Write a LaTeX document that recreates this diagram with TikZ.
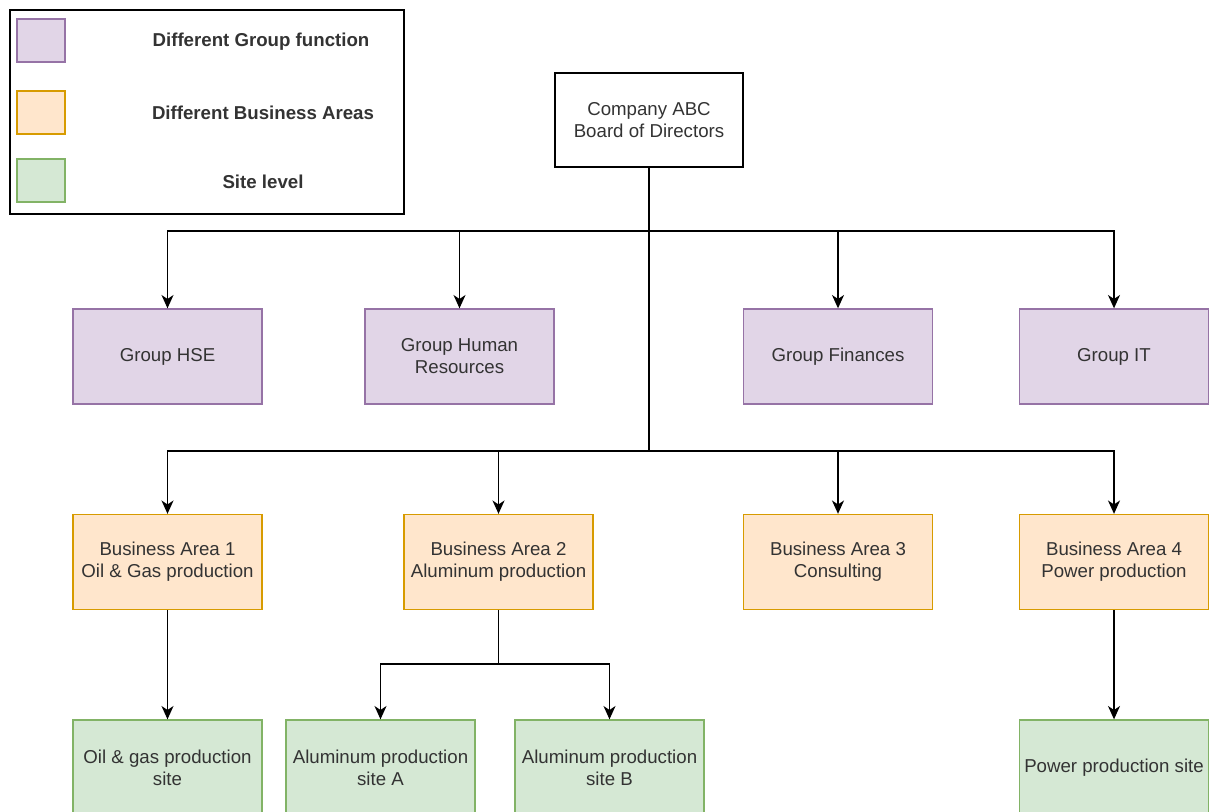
\documentclass[tikz,border=0pt]{standalone}
\usepackage{fontspec}
\setmainfont{Liberation Sans}
\usetikzlibrary{arrows.meta}
\definecolor{pfill}{HTML}{E1D5E7}\definecolor{pline}{HTML}{9673A6}
\definecolor{ofill}{HTML}{FFE6CC}\definecolor{oline}{HTML}{D79B00}
\definecolor{gfill}{HTML}{D5E8D4}\definecolor{gline}{HTML}{82B366}
\definecolor{txt}{HTML}{333333}
\tikzset{
  box/.style={draw, line width=1pt, minimum width=141.75pt, minimum height=71.25pt, inner sep=0pt, align=center, text=txt, font=\fontsize{14}{16.5}\selectfont},
  pbox/.style={box, fill=pfill, draw=pline},
  obox/.style={box, fill=ofill, draw=oline},
  gbox/.style={box, fill=gfill, draw=gline},
  lsq/.style={draw, line width=1pt, minimum width=36pt, minimum height=32.25pt, inner sep=0pt},
  ltxt/.style={font=\bfseries\fontsize{14}{16.5}\selectfont, text=txt, inner sep=0pt},
  conn/.style={line width=1.1pt, draw=black},
  arr/.style={conn, -{Stealth[length=10pt,width=9pt,inset=3pt]}}
}
\begin{document}
\begin{tikzpicture}[x=0.75pt,y=-0.75pt]
\useasboundingbox (0,0) rectangle (1209,812);
\fill[white] (0,0) rectangle (1209,812);
% legend
\node[draw, line width=1.1pt, minimum width=295.5pt, minimum height=153pt, inner sep=0pt] (legend) at (207,112) {};
\node[lsq, fill=pfill, draw=pline] (lp) at (41,40.5) {};
\node[lsq, fill=ofill, draw=oline] (lo) at (41,112.5) {};
\node[lsq, fill=gfill, draw=gline] (lg) at (41,180.5) {};
\node[ltxt] (tp) at (261,42) {Different Group function};
\node[ltxt] (to) at (263,113) {Different Business Areas};
\node[ltxt] (tg) at (263,182) {Site level};
% top
\node[box, draw=black, minimum width=141pt, minimum height=70.5pt] (board) at (649,120) {Company ABC\\Board of Directors};
% group functions
\node[pbox] (hse) at (167.5,356.5) {Group HSE};
\node[pbox] (hr) at (459.5,356.5) {Group Human\\Resources};
\node[pbox] (fin) at (838,356.5) {Group Finances};
\node[pbox] (it) at (1114,356.5) {Group IT};
% business areas
\node[obox] (ba1) at (167.5,562) {Business Area 1\\Oil \& Gas production};
\node[obox] (ba2) at (498.5,562) {Business Area 2\\Aluminum production};
\node[obox] (ba3) at (838,562) {Business Area 3\\Consulting};
\node[obox] (ba4) at (1114,562) {Business Area 4\\Power production};
% sites
\node[gbox] (s1) at (167.5,767.5) {Oil \& gas production\\site};
\node[gbox] (s2) at (380.5,767.5) {Aluminum production\\site A};
\node[gbox] (s3) at (609.5,767.5) {Aluminum production\\site B};
\node[gbox] (s4) at (1114,767.5) {Power production site};
% connectors
\coordinate (j1) at (649,231);
\coordinate (j2) at (649,451);
\coordinate (j3) at (498.5,664);
\draw[conn] (board.south) -- (j2);
\draw[arr] (j1) -| (hse.north);
\draw[arr] (j1) -| (hr.north);
\draw[arr] (j1) -| (fin.north);
\draw[arr] (j1) -| (it.north);
\draw[arr] (j2) -| (ba1.north);
\draw[arr] (j2) -| (ba2.north);
\draw[arr] (j2) -| (ba3.north);
\draw[arr] (j2) -| (ba4.north);
\draw[arr] (ba1.south) -- (s1.north);
\draw[conn] (ba2.south) -- (j3);
\draw[arr] (j3) -| (s2.north);
\draw[arr] (j3) -| (s3.north);
\draw[arr] (ba4.south) -- (s4.north);
\end{tikzpicture}
\end{document}
